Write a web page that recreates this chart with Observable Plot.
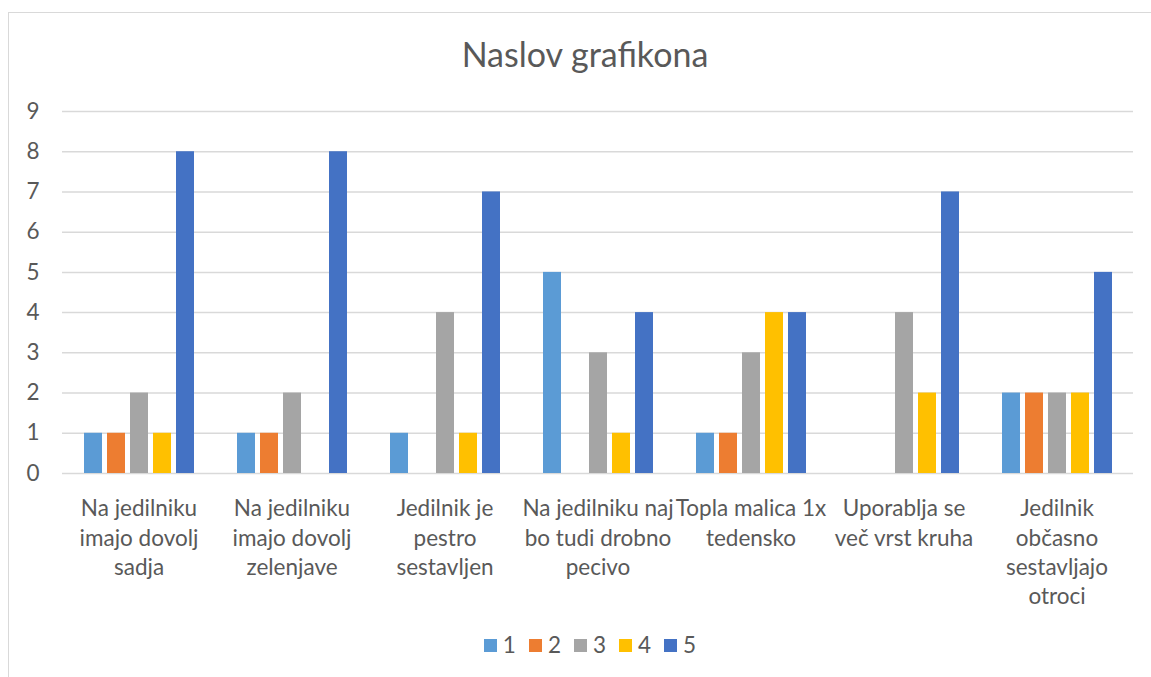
<!DOCTYPE html>
<html>
<head>
<meta charset="utf-8">
<script src="https://cdn.jsdelivr.net/npm/d3@7"></script>
<script src="https://cdn.jsdelivr.net/npm/@observablehq/plot@0.6"></script>
<style>
  html, body { margin: 0; padding: 0; background: #fff; }
  #wrap { position: relative; width: 1151px; height: 677px; overflow: hidden; font-family: Lato, sans-serif; color: #595959; }
  #frame { position: absolute; left: 8px; top: 12px; right: -10px; bottom: -10px; border-left: 1.3px solid #d9d9d9; border-top: 1.3px solid #d9d9d9; pointer-events: none; }
  #title { box-sizing: border-box; height: 90px; padding-top: 37px; line-height: 34px; font-size: 34px; text-align: center; padding-left: 19px; }
  #legend { display: flex; justify-content: center; align-items: center; margin-top: 3px; font-size: 22.5px; line-height: 24px; padding-left: 42px; }
  .item { display: flex; align-items: center; margin-right: 13px; }
  .sw { width: 13px; height: 13px; margin-right: 6px; }
  svg { display: block; overflow: visible; }
</style>
</head>
<body>
<div id="wrap">
  <div id="frame"></div>
  <div id="title"></div>
  <div id="chart"></div>
  <div id="legend"></div>
</div>
<script>
const title = "Naslov grafikona";
const categories = [
  "Na jedilniku\nimajo dovolj\nsadja",
  "Na jedilniku\nimajo dovolj\nzelenjave",
  "Jedilnik je\npestro\nsestavljen",
  "Na jedilniku naj\nbo tudi drobno\npecivo",
  "Topla malica 1x\ntedensko",
  "Uporablja se\nveč vrst kruha",
  "Jedilnik\nobčasno\nsestavljajo\notroci"
];
const series = ["1", "2", "3", "4", "5"];
const colors = ["#5B9BD5", "#ED7D31", "#A5A5A5", "#FFC000", "#4472C4"];
const s1 = [1, 1, 1, 5, 1, 0, 2];
const s2 = [1, 1, 0, 0, 1, 0, 2];
const s3 = [2, 2, 4, 3, 3, 4, 2];
const s4 = [1, 0, 1, 1, 4, 2, 2];
const s5 = [8, 8, 7, 4, 4, 7, 5];
const yTicks = [0, 1, 2, 3, 4, 5, 6, 7, 8, 9];

const seriesValues = [s1, s2, s3, s4, s5];
const data = [];
categories.forEach((c, i) => {
  series.forEach((s, j) => {
    data.push({category: c, series: s, value: seriesValues[j][i]});
  });
});

document.getElementById("title").textContent = title;

const chart = Plot.plot({
  width: 1151,
  height: 540,
  marginLeft: 61,
  marginRight: 18,
  marginTop: 21,
  marginBottom: 157,
  style: {fontFamily: "Lato, sans-serif", fontSize: "22.5px", color: "#595959", background: "transparent", overflow: "visible"},
  fx: {domain: categories, padding: 0, axis: null},
  x: {domain: series, paddingInner: 0.22, paddingOuter: 0.87, axis: null},
  y: {domain: [0, 9], ticks: yTicks, tickSize: 0, tickPadding: 23, label: null, tickFormat: d => String(d)},
  color: {domain: series, range: colors},
  marks: [
    Plot.ruleY(yTicks, {y: d => d, stroke: "#d9d9d9", strokeWidth: 1.5}),
    Plot.barY(data, {fx: "category", x: "series", y: "value", fill: "series"}),
    Plot.text(categories, {fx: d => d, text: d => d, frameAnchor: "bottom", lineAnchor: "top", dy: 22, lineHeight: 1.3, fill: "#595959", fontSize: 22.5})
  ]
});
document.getElementById("chart").appendChild(chart);

const legend = document.getElementById("legend");
series.forEach((s, i) => {
  const item = document.createElement("div");
  item.className = "item";
  const sw = document.createElement("div");
  sw.className = "sw";
  sw.style.background = colors[i];
  const lab = document.createElement("span");
  lab.textContent = s;
  item.appendChild(sw);
  item.appendChild(lab);
  legend.appendChild(item);
});
</script>
</body>
</html>
